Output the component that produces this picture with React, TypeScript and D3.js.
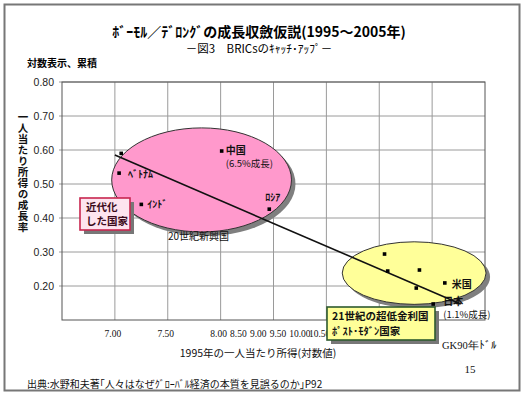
import React from "react";
import * as d3 from "d3";

// ---- data ----
const countryNames = ["ﾍﾞﾄﾅﾑ", "ｲﾝﾄﾞ", "中国", "ﾛｼｱ", "", "", "", "", "米国", "日本", ""];
const income1995 = [7.04, 7.25, 8.01, 8.46, 9.55, 9.58, 9.88, 9.85, 10.12, 10.01, 7.06];
const growthRate = [0.532, 0.44, 0.597, 0.426, 0.294, 0.244, 0.247, 0.194, 0.209, 0.147, 0.59];
const subLabels = ["", "", "(6.5%成長)", "", "", "", "", "", "", "(1.1%成長)", ""];

const xTickValues = [7.0, 7.5, 8.0, 8.5, 9.0, 9.5, 10.0, 10.5];
const xGridValues = [7.0, 7.5, 8.0, 8.5, 9.0, 9.5, 10.0];
const yTickValues = [0.2, 0.3, 0.4, 0.5, 0.6, 0.7, 0.8];

const trendX = [7.0, 10.27];
const trendY = [0.585, 0.147];

const groupNames = ["20世紀新興国", "21世紀の超低金利国"];
const groupCx = [7.82, 9.83];
const groupCy = [0.512, 0.238];
const groupRx = [0.85, 0.68];
const groupRy = [0.153, 0.092];

const titleText = "ﾎﾞｰﾓﾙ／ﾃﾞﾛﾝｸﾞの成長収斂仮説(1995～2005年)";
const subtitleText = "－図3　BRICsのｷｬｯﾁ･ｱｯﾌﾟ－";
const yUnitText = "対数表示、累積";
const yTitleText = "一人当たり所得の成長率";
const xTitleText = "1995年の一人当たり所得(対数値)";
const unitText = "GK90年ﾄﾞﾙ";
const sourceText = "出典:水野和夫著｢人々はなぜｸﾞﾛｰﾊﾞﾙ経済の本質を見誤るのか｣P92";
const pageText = "15";
const box1Lines = ["近代化", "した国家"];
const box2Lines = ["21世紀の超低金利国", "ﾎﾟｽﾄ･ﾓﾀﾞﾝ国家"];

// label offsets (layout)
const labelDx = [9, 6, 4, -4, 0, 0, 0, 0, 7, 10, 0];
const labelDy = [5, 4, 3, -8, 0, 0, 0, 0, 5, 1, 0];

const JP = "'Noto Sans CJK JP', sans-serif";
const SERIF = "'Liberation Serif', 'DejaVu Serif', serif";
const SANS = "'Liberation Sans', Arial, sans-serif";

export default function App() {
  const W = 530, H = 397;
  const left = 62, right = 485, top = 82, bottom = 320;
  const x = d3.scaleLinear().domain([6.5, 10.5]).range([left, right]);
  const y = d3.scaleLinear().domain([0.1, 0.8]).range([bottom, top]);
  const line = d3.line<number>().x((_, i) => x(trendX[i])).y((_, i) => y(trendY[i]));

  const ellFill = ["#ff99cc", "#ffff99"];
  const xLabelPos = (v: number, i: number) => (i < 3 ? x(v) - 2 : x(8.0) - 2 + (i - 2) * 19.8 + (i >= 6 ? 2 : 0));

  return (
    <svg width={W} height={H} style={{ position: "absolute", left: 0, top: 0, background: "#fff" }}>
      <rect x={4.5} y={4.5} width={515} height={386} fill="#fff" stroke="#777" strokeWidth={2} />
      <text x={259} y={37} textAnchor="middle" fontFamily={JP} fontWeight="bold" fontSize={14}>{titleText}</text>
      <text x={259} y={53} textAnchor="middle" fontFamily={JP} fontSize={11.5}>{subtitleText}</text>
      <text x={27} y={67} fontFamily={JP} fontWeight="bold" fontSize={10}>{yUnitText}</text>

      {/* grid */}
      {yTickValues.map((v) => (
        <line key={"gy" + v} x1={left - 3} x2={right} y1={y(v)} y2={y(v)} stroke="#9a9a9a" strokeWidth={1} />
      ))}
      {xGridValues.map((v) => (
        <line key={"gx" + v} x1={x(v)} x2={x(v)} y1={top} y2={bottom} stroke="#9a9a9a" strokeWidth={1} />
      ))}
      <rect x={left} y={top} width={right - left} height={bottom - top} fill="none" stroke="#555" strokeWidth={1} />

      {yTickValues.map((v) => (
        <text key={"ty" + v} x={54} y={y(v) + 4} textAnchor="end" fontFamily={SANS} fontSize={10.5} fill="#222">{v.toFixed(2)}</text>
      ))}
      {xTickValues.map((v, i) => (
        <text key={"tx" + v} x={xLabelPos(v, i)} y={337} textAnchor="middle" fontFamily={SERIF} fontSize={9.5} fill="#111">{v.toFixed(2)}</text>
      ))}

      {/* ellipses */}
      {groupCx.map((cx, i) => (
        <g key={"el" + i}>
          <ellipse cx={x(cx) + 4} cy={y(groupCy[i]) + 4} rx={x(groupRx[i]) - x(0)} ry={y(0) - y(groupRy[i])} fill="#7f7f7f" />
          <ellipse cx={x(cx)} cy={y(groupCy[i])} rx={x(groupRx[i]) - x(0)} ry={y(0) - y(groupRy[i])} fill={ellFill[i]} stroke="#333" strokeWidth={1} />
        </g>
      ))}

      {/* trend line */}
      <path d={line(trendX) || ""} fill="none" stroke="#111" strokeWidth={1.6} />

      {/* points */}
      {income1995.map((v, i) => (
        <rect key={"p" + i} x={x(v) - 1.8} y={y(growthRate[i]) - 1.8} width={3.6} height={3.6} fill="#000" />
      ))}
      {countryNames.map((n, i) =>
        n ? (
          <g key={"l" + i}>
            <text x={x(income1995[i]) + labelDx[i]} y={y(growthRate[i]) + labelDy[i]} fontFamily={JP} fontWeight="bold" fontSize={10} fill="#111">{n}</text>
            {subLabels[i] && (
              <text x={x(income1995[i]) + labelDx[i]} y={y(growthRate[i]) + labelDy[i] + 13} fontFamily={JP} fontSize={9.5} fill="#111">{subLabels[i]}</text>
            )}
          </g>
        ) : null
      )}
      <text x={168} y={240} fontFamily={JP} fontSize={10} fill="#111">{groupNames[0]}</text>

      {/* boxes */}
      <rect x={84} y={202} width={50} height={32} fill="#777" />
      <rect x={80} y={198} width={50} height={32} fill="#fde4ef" stroke="#c8264f" strokeWidth={1.6} />
      {box1Lines.map((t, i) => (
        <text key={"b1" + i} x={86} y={211 + i * 14} fontFamily={JP} fontWeight="bold" fontSize={10.5} fill="#3a0a1a">{t}</text>
      ))}

      <rect x={331} y={311} width={108} height={33} fill="#777" />
      <rect x={327} y={307} width={108} height={33} fill="#ffff99" stroke="#2e5a2e" strokeWidth={1.6} />
      {box2Lines.map((t, i) => (
        <text key={"b2" + i} x={332} y={320 + i * 15} fontFamily={JP} fontWeight="bold" fontSize={10.5} fill="#111">{t}</text>
      ))}

      {/* y title vertical */}
      <text x={23} y={112} fontFamily={JP} fontWeight="bold" fontSize={10.5} fill="#111"
        style={{ writingMode: "vertical-rl" as any }} letterSpacing={0.5}>{yTitleText}</text>

      <text x={258} y={357} textAnchor="middle" fontFamily={JP} fontSize={10.5} fill="#111">{xTitleText}</text>
      <text x={442} y={349} fontFamily={SERIF} fontSize={10.5} fill="#111">{unitText}</text>
      <text x={470} y={373} textAnchor="middle" fontFamily={SERIF} fontSize={11} fill="#111">{pageText}</text>
      <text x={27} y={388} fontFamily={JP} fontSize={10} fill="#111">{sourceText}</text>
    </svg>
  );
}
